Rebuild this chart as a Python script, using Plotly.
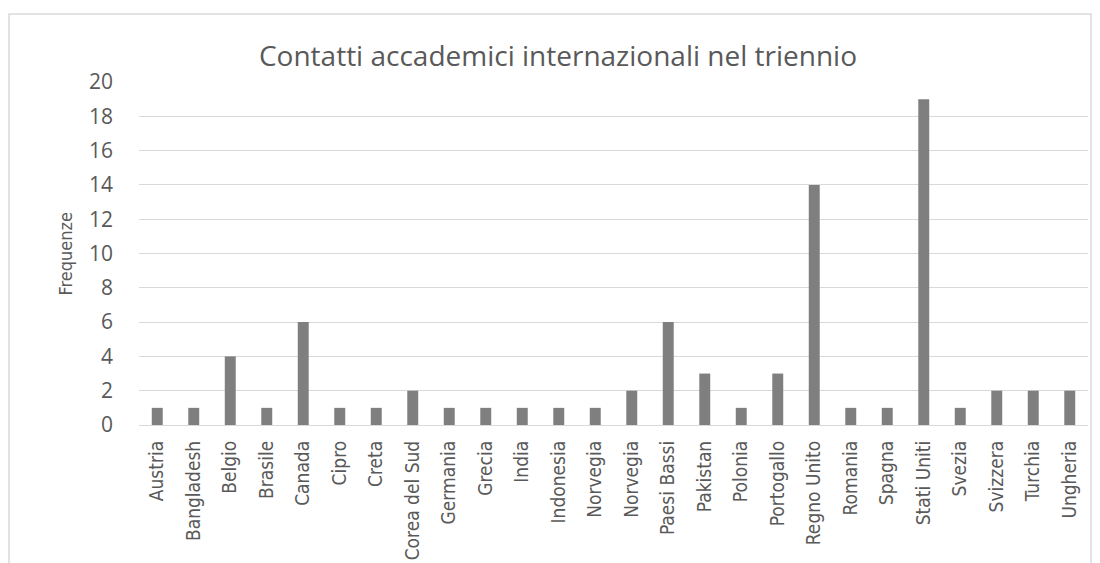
import plotly.graph_objects as go

countries = ["Austria", "Bangladesh", "Belgio", "Brasile", "Canada", "Cipro", "Creta",
             "Corea del Sud", "Germania", "Grecia", "India", "Indonesia", "Norvegia",
             "Norvegia", "Paesi Bassi", "Pakistan", "Polonia", "Portogallo", "Regno Unito",
             "Romania", "Spagna", "Stati Uniti", "Svezia", "Svizzera", "Turchia", "Ungheria"]
frequenze = [1, 1, 4, 1, 6, 1, 1, 2, 1, 1, 1, 1, 1, 2, 6, 3, 1, 3, 14, 1, 1, 19, 1, 2, 2, 2]
y_ticks = [0, 2, 4, 6, 8, 10, 12, 14, 16, 18, 20]

positions = list(range(len(countries)))

fig = go.Figure(go.Bar(x=positions, y=frequenze, marker=dict(color="#7f7f7f", line=dict(width=0)),
                       width=0.3))

# page body has an 8px margin; figure sized so it ends at the window edge
OFF = 8
W, H = 1100 - OFF, 563 - OFF
ml, mr, mt, mb = 139 - OFF, W - (1088 - OFF), 82 - OFF, H - (425 - OFF)
pw, ph = W - ml - mr, H - mt - mb

fig.update_layout(
    width=W, height=H,
    margin=dict(l=ml, r=mr, t=mt, b=mb, autoexpand=False),
    paper_bgcolor="white", plot_bgcolor="white",
    showlegend=False,
    title=dict(text="Contatti accademici internazionali nel triennio",
               x=(558 - OFF) / W, xanchor="center", y=1 - (56 - OFF) / H, yanchor="middle",
               font=dict(family="Open Sans", size=28, color="#595959")),
    xaxis=dict(tickmode="array", tickvals=positions, ticktext=countries,
               tickangle=-90, range=[-0.5, len(countries) - 0.5], automargin=False,
               tickfont=dict(family="Liberation Sans Narrow, DejaVu Sans Condensed", size=19, color="#595959"),
               ticklabelstandoff=11,
               showgrid=False, zeroline=False, showline=False, ticks=""),
    yaxis=dict(range=[0, 20], tickvals=y_ticks, showgrid=True, gridcolor="#d9d9d9", gridwidth=1,
               zeroline=True, zerolinecolor="#d9d9d9", zerolinewidth=1, automargin=False,
               tickfont=dict(family="Open Sans", size=21, color="#595959"),
               ticklabelstandoff=25),
    annotations=[dict(text="Frequenze", xref="paper", yref="paper",
                      x=(65 - 139) / pw, y=0.5, xanchor="center", yanchor="middle",
                      textangle=-90, showarrow=False,
                      font=dict(family="Liberation Sans Narrow, DejaVu Sans Condensed", size=18, color="#595959"))],
    shapes=[dict(type="rect", xref="paper", yref="paper",
                 x0=(9 - 139) / pw, x1=(1091 - 139) / pw,
                 y0=-0.6, y1=(H - (14 - OFF) - mb) / ph,
                 line=dict(color="#d9d9d9", width=1.5), fillcolor="rgba(0,0,0,0)", layer="below")],
)

fig.write_html("out.html")
